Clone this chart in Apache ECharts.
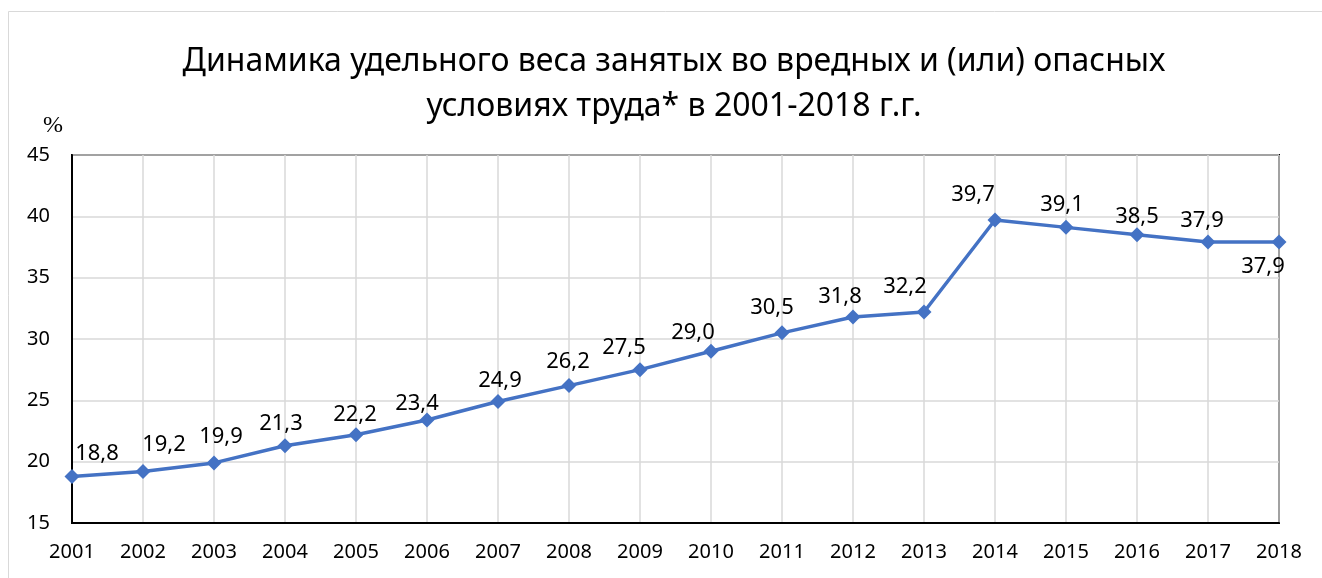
<!DOCTYPE html>
<html>
<head>
<meta charset="utf-8">
<script src="https://cdn.jsdelivr.net/npm/echarts@6/dist/echarts.min.js"></script>
<style>
html,body{margin:0;padding:0;background:#fff;}
#chart{width:1322px;height:578px;}
</style>
</head>
<body>
<div id="chart"></div>
<script>
const years = ['2001','2002','2003','2004','2005','2006','2007','2008','2009','2010','2011','2012','2013','2014','2015','2016','2017','2018'];
const shares = [18.8,19.2,19.9,21.3,22.2,23.4,24.9,26.2,27.5,29.0,30.5,31.8,32.2,39.7,39.1,38.5,37.9,37.9];
const yTicks = {min:15, max:45, interval:5};
const titleText = 'Динамика удельного веса занятых во вредных и (или) опасных\nусловиях труда* в 2001-2018 г.г.';
const unitText = '%';
// label placement (layout only)
const labelOffsets = [[25,-23],[21,-27],[7,-26],[-4,-22],[-1,-20],[-10,-16],[2,-21],[-1,-24],[-16,-22],[-18,-19],[-10,-25],[-13,-20],[-19,-25],[-22,-25],[-4,-23],[0,-18],[-6,-21],[-16,25]];

const FONT = '"Noto Sans", "Open Sans", sans-serif';
const chart = echarts.init(document.getElementById('chart'));
const seriesData = shares.map((v,i)=>({
  value:v,
  label:{offset:labelOffsets[i]}
}));
chart.setOption({
  animation:false,
  backgroundColor:'#fff',
  title:{
    text:titleText,
    left:669, top:34, textAlign:'center',
    textStyle:{fontFamily:FONT,fontSize:32,fontWeight:'normal',color:'#000',lineHeight:45}
  },
  graphic:[
    {type:'rect',shape:{x:8.5,y:11.5,width:1340,height:600},style:{fill:null,stroke:'#d9d9d9',lineWidth:1},silent:true,z:-10},
    {type:'text',left:43,top:114,style:{text:unitText,font:'24px "Liberation Serif", serif',fill:'#000'}}
  ],
  grid:{left:72,right:43,top:155,bottom:55,show:true,borderColor:'#000',borderWidth:2,containLabel:false},
  xAxis:{
    type:'category',data:years,boundaryGap:false,
    axisLine:{show:true,lineStyle:{color:'#000',width:2}},
    axisTick:{show:false},
    axisLabel:{color:'#000',fontFamily:FONT,fontSize:20,margin:19},
    splitLine:{show:true,lineStyle:{color:'#d9d9d9',width:1.5}}
  },
  yAxis:{
    type:'value',min:yTicks.min,max:yTicks.max,interval:yTicks.interval,
    axisLine:{show:true,lineStyle:{color:'#000',width:2}},
    axisTick:{show:false},
    axisLabel:{color:'#000',fontFamily:FONT,fontSize:20,margin:22},
    splitLine:{show:true,lineStyle:{color:'#d9d9d9',width:1.5}}
  },
  series:[{
    type:'line',data:seriesData,
    symbol:'diamond',symbolSize:15,
    lineStyle:{color:'#4472C4',width:3.5},
    itemStyle:{color:'#4472C4'},
    label:{show:true,position:'inside',color:'#000',fontFamily:FONT,fontSize:22,
      formatter:p=>p.value.toFixed(1).replace('.',',')},
    z:5
  }]
});
</script>
</body>
</html>
